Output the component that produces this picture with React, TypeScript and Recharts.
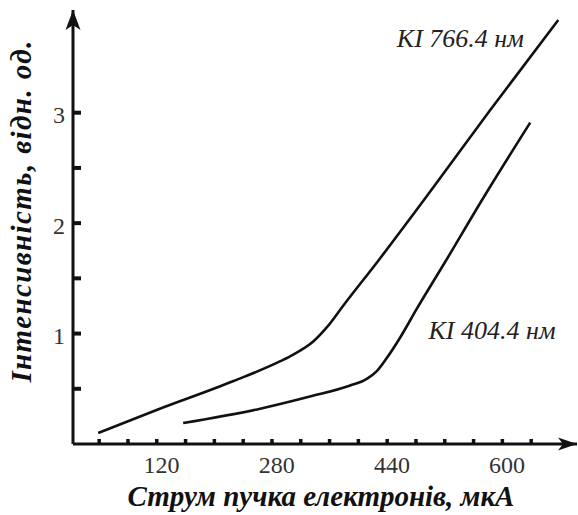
import React from 'react';
import { LineChart, Line, XAxis, YAxis, ReferenceDot } from 'recharts';

const xTicks = [40, 80, 120, 160, 200, 240, 280, 320, 360, 400, 440, 480, 520, 560, 600, 640];
const xLabeled = [120, 280, 440, 600];
const yTicks = [0.5, 1, 1.5, 2, 2.5, 3];
const yLabeled = [1, 2, 3];

const current766 = [39, 121, 227, 292, 310, 338, 357, 379, 428, 504, 583, 678];
const intensity766 = [0.1, 0.31, 0.57, 0.75, 0.81, 0.93, 1.06, 1.25, 1.66, 2.32, 3.02, 3.84];
const current404 = [157, 264, 333, 389, 412, 426, 440, 458, 482, 521, 574, 639];
const intensity404 = [0.19, 0.32, 0.43, 0.53, 0.59, 0.66, 0.78, 0.96, 1.23, 1.65, 2.23, 2.91];

const data766 = current766.map((x, i) => ({ x, y: intensity766[i] }));
const data404 = current404.map((x, i) => ({ x, y: intensity404[i] }));

const FONT = '"Liberation Serif", "DejaVu Serif", serif';
const INK = '#111';

const XTick = (props: any) => {
  const { x, y, payload } = props;
  const v = payload.value;
  return (
    <g>
      <rect x={x - 1.5} y={y - 5} width={3.5} height={5} fill={INK} />
      {xLabeled.includes(v) && (
        <text x={x + 5} y={y + 29} textAnchor="middle" fontFamily={FONT} fontSize={24} fill="#333">
          {v}
        </text>
      )}
    </g>
  );
};

const YTick = (props: any) => {
  const { x, y, payload } = props;
  const v = payload.value;
  return (
    <g>
      <rect x={x} y={y - 2} width={8} height={4} fill={INK} />
      {yLabeled.includes(v) && (
        <text x={x - 8} y={y + 2} dy="0.35em" textAnchor="end" fontFamily={FONT} fontSize={24} fill="#333">
          {v}
        </text>
      )}
    </g>
  );
};

const ArrowRight = (props: any) => {
  const { cx, cy } = props;
  return <path d={`M${cx},${cy} L${cx - 19},${cy - 6.5} L${cx - 14},${cy} L${cx - 19},${cy + 6.5} Z`} fill={INK} />;
};
const ArrowUp = (props: any) => {
  const { cx, cy } = props;
  return <path d={`M${cx},${cy} L${cx - 7.5},${cy + 20} L${cx},${cy + 15} L${cx + 7.5},${cy + 20} Z`} fill={INK} />;
};
const textShape = (label: string) => (props: any) => {
  const { cx, cy } = props;
  return (
    <text x={cx} y={cy} dy="0.35em" textAnchor="middle" fontFamily={FONT} fontStyle="italic" fontSize={26} fill="#222">
      {label}
    </text>
  );
};

export default function App() {
  return (
    <div style={{ position: 'absolute', left: 0, top: 0, background: '#fff' }}>
      <LineChart width={578} height={515} margin={{ top: 10, right: 1, bottom: 0, left: 0 }}>
        <XAxis
          type="number"
          dataKey="x"
          domain={[4, 704]}
          ticks={xTicks}
          interval={0}
          tick={<XTick />}
          tickLine={false}
          tickSize={0}
          tickMargin={0}
          height={71}
          axisLine={{ stroke: INK, strokeWidth: 3 }}
          allowDataOverflow
          label={{
            value: 'Струм пучка електронів, мкА',
            position: 'insideBottom',
            offset: 9,
            dx: -4,
            style: { fontFamily: FONT, fontStyle: 'italic', fontWeight: 'bold', fontSize: 29, fill: INK },
          }}
        />
        <YAxis
          type="number"
          dataKey="y"
          domain={[0, 3.93]}
          ticks={yTicks}
          interval={0}
          tick={<YTick />}
          tickLine={false}
          tickSize={0}
          tickMargin={0}
          width={73}
          axisLine={{ stroke: INK, strokeWidth: 3 }}
          allowDataOverflow
          label={{
            value: 'Інтенсивність, відн. од.',
            angle: -90,
            position: 'insideLeft',
            offset: 21,
            dy: -16,
            style: { fontFamily: FONT, fontStyle: 'italic', fontWeight: 'bold', fontSize: 29, letterSpacing: 1.4, fill: INK, textAnchor: 'middle' },
          }}
        />
        <Line data={data766} dataKey="y" type="monotone" stroke={INK} strokeWidth={2.6} dot={false} isAnimationActive={false} />
        <Line data={data404} dataKey="y" type="monotone" stroke={INK} strokeWidth={2.6} dot={false} isAnimationActive={false} />
        <ReferenceDot x={704} y={0} r={0} ifOverflow="visible" shape={ArrowRight} />
        <ReferenceDot x={4} y={3.93} r={0} ifOverflow="visible" shape={ArrowUp} />
        <ReferenceDot x={542} y={3.68} r={0} ifOverflow="visible" shape={textShape('KI 766.4 нм')} />
        <ReferenceDot x={586} y={1.03} r={0} ifOverflow="visible" shape={textShape('KI 404.4 нм')} />
      </LineChart>
    </div>
  );
}
